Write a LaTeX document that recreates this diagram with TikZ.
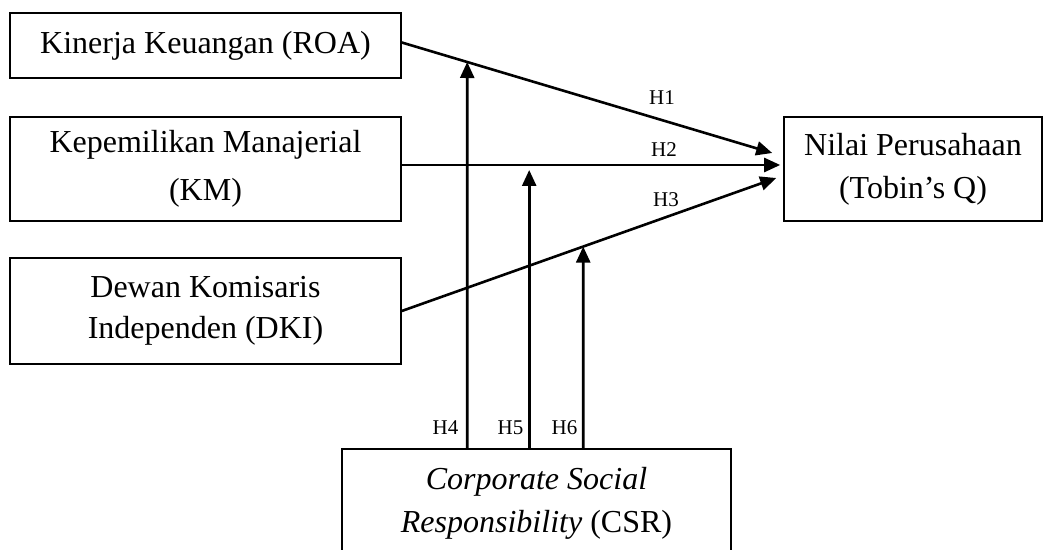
\documentclass[tikz,border=0pt]{standalone}
\usepackage{fontspec}
\setmainfont{Liberation Serif}
\usetikzlibrary{arrows.meta,calc}
\begin{document}
\begin{tikzpicture}[x=0.5pt,y=-0.5pt,
  box/.style={draw, line width=0.8pt, inner sep=0pt, align=center},
  arr/.style={line width=1.3pt, -{Triangle[length=8pt,width=7pt]}},
  hlabel/.style={inner sep=0pt, font=\fontsize{10.5}{12}\selectfont}]
\useasboundingbox (0,0) rectangle (1050,550);
\node[box, minimum width=195.5pt, minimum height=32.5pt, font=\fontsize{16}{24}\selectfont] (roa) at (205.5,45.5) {Kinerja Keuangan (ROA)};
\node[box, minimum width=195.5pt, minimum height=52pt, font=\fontsize{16}{24}\selectfont] (km) at (205.5,169) {Kepemilikan Manajerial\\(KM)};
\node[box, minimum width=195.5pt, minimum height=53pt, font=\fontsize{16}{20.5}\selectfont] (dki) at (205.5,311) {Dewan Komisaris\\Independen (DKI)};
\node[box, minimum width=129pt, minimum height=52pt, font=\fontsize{16}{21.5}\selectfont] (nilai) at (913,169) {Nilai Perusahaan\\(Tobin’s Q)};
\node[box, minimum width=194.5pt, minimum height=54pt, font=\fontsize{16}{21.5}\selectfont] (csr) at (536.5,503) {\textit{Corporate Social}\\\textit{Responsibility} (CSR)};

\coordinate (s1) at ($(roa.east)+(0,-3)$);
\coordinate (t1) at ($(nilai.west)+(-11,-16)$);
\coordinate (s2) at ($(km.east)+(0,-4)$);
\coordinate (t2) at ($(nilai.west)+(-3,-4)$);
\coordinate (s3) at (dki.east);
\coordinate (t3) at ($(nilai.west)+(-7,9)$);
\draw[arr] (s1) -- (t1);
\draw[arr] (s2) -- (t2);
\draw[arr] (s3) -- (t3);

\coordinate (b4) at ($(csr.north west)+(126,0)$);
\coordinate (b5) at ($(csr.north west)+(188,0)$);
\coordinate (b6) at ($(csr.north west)+(242,0)$);
\coordinate (u4) at ($(b4)+(0,-420)$);
\coordinate (u6) at ($(b6)+(0,-420)$);
\coordinate (e5) at ($(b5 |- s2)+(0,5)$);
\draw[arr] (b4) -- (intersection of b4--u4 and s1--t1);
\draw[arr] (b5) -- (e5);
\draw[arr] (b6) -- (intersection of b6--u6 and s3--t3);

\node[hlabel] (h1) at (662,98) {H1};
\node[hlabel] (h2) at (664,150) {H2};
\node[hlabel] (h3) at (666,200) {H3};
\node[hlabel] (h4) at (445.5,428) {H4};
\node[hlabel] (h5) at (510.5,428) {H5};
\node[hlabel] (h6) at (564.5,428) {H6};
\end{tikzpicture}
\end{document}
